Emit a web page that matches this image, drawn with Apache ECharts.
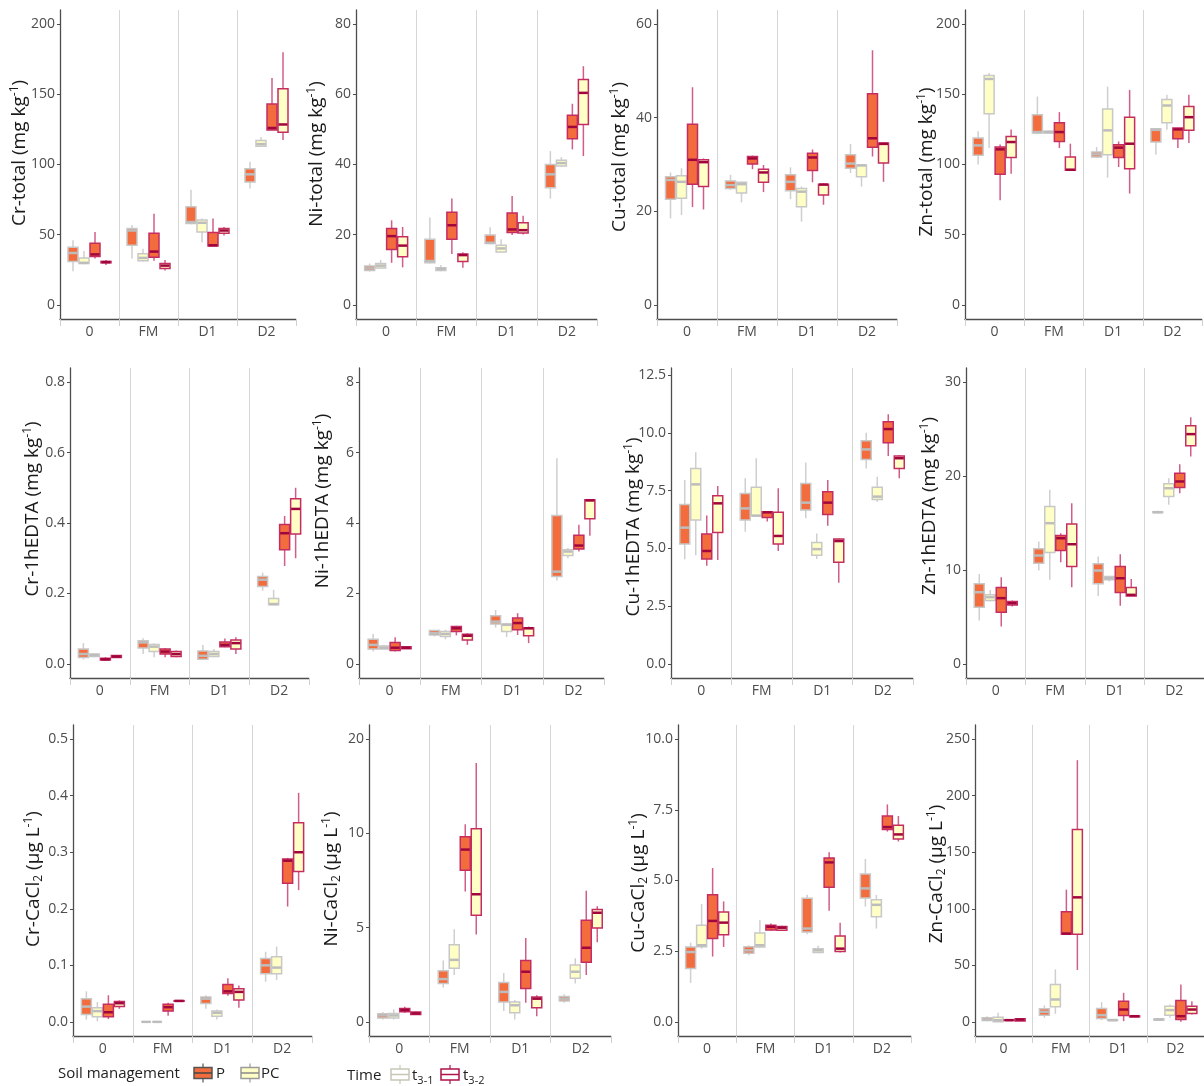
<!DOCTYPE html>
<html><head><meta charset="utf-8">
<script src="https://cdn.jsdelivr.net/npm/echarts@6/dist/echarts.min.js"></script>
<style>html,body{margin:0;padding:0;background:#fff}#chart{width:1204px;height:1086px}</style>
</head><body><div id="chart"></div>
<script>
// ---------- categories / groups ----------
const categories = ['0', 'FM', 'D1', 'D2'];
const groupNames = ['P t3-1', 'PC t3-1', 'P t3-2', 'PC t3-2'];

// ---------- data: per panel, per group (P t3-1, PC t3-1, P t3-2, PC t3-2), per category [low, q1, median, q3, high] ----------
const crTotal = [
  [[24,31,37,41,46],[33,42.5,53,54.5,57],[57.5,58,59,70,82],[83,87.5,93,97,102]],
  [[29,29.5,30,33.5,38.5],[31,31.5,33.5,36.5,40],[44.5,52,58.5,60.5,61.5],[113,113,114.5,117,119.5]],
  [[33,34.5,36,44,52],[31.5,34,38,51,65],[42,42,42.5,51.5,61.5],[124.5,124.5,126,143,161.5]],
  [[28.5,30,30.5,31,32],[24.5,26,28,29.5,32],[49.5,51,53,54.5,55.5],[117.5,123,128.5,154,180]]
];
const niTotal = [
  [[9.5,9.8,10.4,11.1,11.8],[11.8,12,12.5,18.7,24.9],[17.3,17.5,17.7,19.9,22.1],[30.3,33.4,37.2,40,43.8]],
  [[10.4,10.5,11.2,11.8,12.8],[9.6,9.8,10.3,10.6,11.4],[15,15.1,16.1,17,18.7],[39.3,39.6,40.4,41.2,42.1]],
  [[12,15.8,19.6,21.8,24.1],[14.5,18.7,22.7,26.4,30.3],[19.9,20.6,21.5,26.2,31],[44.3,47.3,50.7,54,57.3]],
  [[10.7,13.7,16.9,19.4,22.2],[10.6,12.4,14.2,14.5,15],[20.1,20.5,21.3,23.4,25.4],[42.4,51.4,60.4,64.2,68]]
];
const cuTotal = [
  [[18.5,22.6,26.7,27.4,28.3],[24.6,24.9,25.6,26.5,27.8],[22.6,24.4,26.3,27.8,29.4],[28.2,29.2,30.2,32.1,34.4]],
  [[19.2,22.8,26.3,27.6,29.2],[21.9,23.9,25.8,26.2,26.3],[17.8,21,24.2,24.9,25.3],[25.3,27.4,29.8,29.9,30]],
  [[20.9,25.8,31,38.6,46.5],[29,30.1,31.3,31.7,31.9],[26.2,28.7,31.5,32.4,33.2],[31.7,33.7,35.6,45.1,54.4]],
  [[20.4,25.3,30.5,31,31.3],[24.1,26.2,28.3,29,29.9],[21.4,23.5,25.7,25.8,26],[26.3,30.3,34.4,34.6,34.7]]
];
const znTotal = [
  [[100,106.5,113.6,118.8,123.6],[121.9,122.4,123.1,135.4,148.4],[104.6,105.3,107.2,108.9,112.4],[107.2,116,124.7,125.4,125.6]],
  [[111.7,136.1,160.9,163.3,165.2],[122,122.4,123.1,123.6,124.3],[90.6,107,124.3,139.6,155.5],[124.7,129.7,142,146.3,149.6]],
  [[74.6,93,110.8,112.4,114.3],[111.7,116.4,123.1,129.7,137.3],[98.2,104.9,112,114.1,116.4],[111.7,118.3,125,125.9,126]],
  [[93.5,104.9,116,120,125],[95.9,95.9,96.3,105.3,114.8],[79.3,97,114.8,133.7,153.1],[115.3,124.3,133.7,141.3,149.6]]
];
const crEdta = [
  [[0.013,0.018,0.028,0.042,0.059],[0.028,0.045,0.061,0.066,0.073],[0.011,0.013,0.023,0.037,0.054],[0.208,0.22,0.239,0.248,0.259]],
  [[0.019,0.021,0.025,0.028,0.03],[0.019,0.035,0.049,0.055,0.059],[0.019,0.021,0.028,0.035,0.042],[0.167,0.168,0.17,0.186,0.21]],
  [[0.009,0.011,0.013,0.016,0.019],[0.019,0.028,0.035,0.042,0.045],[0.047,0.049,0.054,0.062,0.072],[0.278,0.324,0.371,0.396,0.42]],
  [[0.017,0.018,0.021,0.024,0.025],[0.019,0.021,0.028,0.035,0.038],[0.028,0.042,0.059,0.068,0.076],[0.3,0.369,0.44,0.469,0.5]]
];
const niEdta = [
  [[0.35,0.42,0.54,0.70,0.85],[0.78,0.82,0.87,0.95,0.96],[1.03,1.13,1.20,1.37,1.53],[2.37,2.48,2.62,4.21,5.84]],
  [[0.41,0.42,0.46,0.51,0.54],[0.70,0.78,0.85,0.92,0.97],[0.76,0.92,1.11,1.13,1.17],[3.0,3.08,3.19,3.24,3.29]],
  [[0.35,0.38,0.46,0.61,0.76],[0.81,0.92,1.01,1.06,1.08],[0.82,0.97,1.16,1.30,1.44],[3.19,3.26,3.36,3.65,3.95]],
  [[0.42,0.43,0.46,0.49,0.5],[0.54,0.68,0.80,0.84,0.87],[0.59,0.80,1.01,1.03,1.06],[3.64,4.12,4.64,4.66,4.68]]
];
const cuEdta = [
  [[4.53,5.19,5.9,6.9,7.96],[5.72,6.23,6.73,7.38,8.03],[6.3,6.66,6.98,7.81,8.72],[8.46,8.85,9.28,9.65,10.0]],
  [[4.71,6.23,7.77,8.46,9.16],[6.37,6.4,6.42,7.64,8.9],[4.54,4.71,4.97,5.26,5.65],[7.02,7.12,7.24,7.64,8.1]],
  [[4.25,4.54,4.89,5.62,6.42],[6.16,6.34,6.56,6.59,6.62],[5.98,6.47,6.98,7.45,7.96],[9.0,9.57,10.16,10.48,10.8]],
  [[4.5,5.69,6.95,7.28,7.7],[4.89,5.19,5.54,6.56,7.6],[3.52,4.4,5.32,5.41,5.43],[8.03,8.46,8.9,9.0,9.04]]
];
const znEdta = [
  [[4.61,6.03,7.63,8.52,9.58],[9.94,10.72,11.54,12.25,13.03],[7.24,8.52,9.94,10.65,11.43],[16.05,16.1,16.15,16.2,16.3]],
  [[6.64,6.74,7.1,7.35,7.88],[8.95,11.86,14.98,16.76,18.53],[8.77,8.95,9.12,9.3,9.37],[16.93,17.82,18.7,19.17,19.77]],
  [[3.98,5.5,7.0,8.13,9.23],[10.83,12.07,13.38,13.67,13.92],[6.18,7.6,9.12,10.37,11.68],[18.18,18.78,19.42,20.3,21.26]],
  [[6.1,6.28,6.46,6.64,6.74],[8.16,10.37,12.74,14.9,17.11],[7.24,7.24,7.35,8.13,9.05],[22.08,23.22,24.46,25.35,26.27]]
];
const crCacl = [
  [[0.004,0.013,0.027,0.041,0.054],[0,0,0,0,0],[0.023,0.0325,0.041,0.044,0.047],[0.071,0.085,0.1,0.112,0.124]],
  [[0.001,0.009,0.019,0.025,0.035],[0,0,0,0,0],[0.004,0.01,0.016,0.019,0.022],[0.074,0.085,0.096,0.115,0.133]],
  [[0.005,0.009,0.017,0.031,0.047],[0.011,0.019,0.026,0.031,0.034],[0.046,0.05,0.054,0.066,0.077],[0.204,0.245,0.285,0.288,0.29]],
  [[0.023,0.027,0.033,0.036,0.038],[0.036,0.0365,0.037,0.0375,0.038],[0.025,0.0385,0.053,0.0586,0.0645],[0.233,0.266,0.3,0.352,0.405]]
];
const niCacl = [
  [[0.13,0.21,0.34,0.43,0.52],[1.82,2.04,2.27,2.71,3.25],[0.57,1.05,1.59,2.09,2.59],[1.02,1.11,1.23,1.34,1.46]],
  [[0.13,0.21,0.34,0.45,0.66],[2.48,2.84,3.29,4.09,4.91],[0.13,0.48,0.88,1.05,1.16],[2.04,2.32,2.66,3.02,3.38]],
  [[0.48,0.54,0.63,0.71,0.8],[6.91,8.04,9.14,9.82,10.48],[1.02,1.77,2.66,3.25,4.45],[2.48,3.16,3.93,5.39,6.96]],
  [[0.36,0.39,0.45,0.52,0.55],[4.63,5.66,6.77,10.25,13.73],[0.3,0.75,1.23,1.32,1.41],[4.23,4.98,5.79,5.96,6.14]]
];
const cuCacl = [
  [[1.38,1.89,2.47,2.65,2.8],[2.36,2.43,2.53,2.66,2.71],[3.1,3.18,3.3,4.37,4.5],[4.08,4.38,4.72,5.23,5.76]],
  [[2.59,2.66,2.71,3.42,4.17],[2.63,2.65,2.71,3.14,3.6],[2.43,2.45,2.53,2.59,2.69],[3.3,3.72,4.14,4.32,4.49]],
  [[2.31,2.95,3.57,4.5,5.44],[3.22,3.25,3.36,3.42,3.48],[3.93,4.76,5.64,5.8,6.0],[6.73,6.8,6.89,7.28,7.69]],
  [[2.65,3.08,3.51,3.89,4.26],[3.22,3.24,3.33,3.37,3.4],[2.45,2.49,2.59,3.04,3.51],[6.38,6.47,6.63,6.95,7.28]]
];
const znCacl = [
  [[0.6,1.2,2.1,3.6,5],[3.6,5.9,8.9,11.5,14.5],[1.5,3,5.9,11.8,17.5],[1.2,1.5,2.1,2.7,3]],
  [[0,0.2,1.5,4.1,8],[7.1,13.3,19.8,33.1,46.4],[0.9,1.2,1.5,2,2.4],[3.6,5.9,10.4,13.9,15.4]],
  [[1.2,1.3,1.5,1.7,2],[77.5,77.5,78.1,97.3,116.9],[0.6,5.6,10.9,18.3,25.7],[0,2.1,5,18.9,33.1]],
  [[0.6,0.8,2,2.7,3],[45.9,77.5,110.1,170.1,231.4],[4.1,4.4,5,5.3,5.6],[6.5,7.4,10.9,13.9,18.3]]
];

// ---------- tick values and tick labels ----------
const crTotalTicks = [0,50,100,150,200];   const crTotalLabels = ['0','50','100','150','200'];
const niTotalTicks = [0,20,40,60,80];      const niTotalLabels = ['0','20','40','60','80'];
const cuTotalTicks = [0,20,40,60];         const cuTotalLabels = ['0','20','40','60'];
const znTotalTicks = [0,50,100,150,200];   const znTotalLabels = ['0','50','100','150','200'];
const crEdtaTicks = [0,0.2,0.4,0.6,0.8];   const crEdtaLabels = ['0.0','0.2','0.4','0.6','0.8'];
const niEdtaTicks = [0,2,4,6,8];           const niEdtaLabels = ['0','2','4','6','8'];
const cuEdtaTicks = [0,2.5,5,7.5,10,12.5]; const cuEdtaLabels = ['0.0','2.5','5.0','7.5','10.0','12.5'];
const znEdtaTicks = [0,10,20,30];          const znEdtaLabels = ['0','10','20','30'];
const crCaclTicks = [0,0.1,0.2,0.3,0.4,0.5]; const crCaclLabels = ['0.0','0.1','0.2','0.3','0.4','0.5'];
const niCaclTicks = [0,5,10,15];           const niCaclLabels = ['0','5','10','20'];
const cuCaclTicks = [0,2.5,5,7.5,10];      const cuCaclLabels = ['0.0','2.5','5.0','7.5','10.0'];
const znCaclTicks = [0,50,100,150,200,250]; const znCaclLabels = ['0','50','100','150','200','250'];

// ---------- axis titles (parts: [style, text]) ----------
const titles = [
  [['t','Cr-total (mg kg'],['sup','-1'],['t',')']],
  [['t','Ni-total (mg kg'],['sup','-1'],['t',')']],
  [['t','Cu-total (mg kg'],['sup','-1'],['t',')']],
  [['t','Zn-total (mg kg'],['sup','-1'],['t',')']],
  [['t','Cr-1hEDTA (mg kg'],['sup','-1'],['t',')']],
  [['t','Ni-1hEDTA (mg kg'],['sup','-1'],['t',')']],
  [['t','Cu-1hEDTA (mg kg'],['sup','-1'],['t',')']],
  [['t','Zn-1hEDTA (mg kg'],['sup','-1'],['t',')']],
  [['t','Cr-CaCl'],['sub','2'],['t',' (µg L'],['sup','-1'],['t',')']],
  [['t','Ni-CaCl'],['sub','2'],['t',' (µg L'],['sup','-1'],['t',')']],
  [['t','Cu-CaCl'],['sub','2'],['t',' (µg L'],['sup','-1'],['t',')']],
  [['t','Zn-CaCl'],['sub','2'],['t',' (µg L'],['sup','-1'],['t',')']]
];

// ---------- layout (pixels) ----------
const PANEL_DATA = [crTotal, niTotal, cuTotal, znTotal, crEdta, niEdta, cuEdta, znEdta, crCacl, niCacl, cuCacl, znCacl];
const PANEL_TICKS = [crTotalTicks, niTotalTicks, cuTotalTicks, znTotalTicks, crEdtaTicks, niEdtaTicks, cuEdtaTicks, znEdtaTicks, crCaclTicks, niCaclTicks, cuCaclTicks, znCaclTicks];
const PANEL_LABELS = [crTotalLabels, niTotalLabels, cuTotalLabels, znTotalLabels, crEdtaLabels, niEdtaLabels, cuEdtaLabels, znEdtaLabels, crCaclLabels, niCaclLabels, cuCaclLabels, znCaclLabels];
const Y_RANGE = [[-10,210],[-4,84],[-3,63],[-10,210],[-0.04,0.84],[-0.4,8.4],[-0.6,12.8],[-1.5,31.5],[-0.025,0.525],[-0.75,15.75],[-0.5,10.5],[-12.5,262.5]];
const GRIDS = [
  [60,10,236,309],[356,10,241,309],[657,10,240,309],[965,10,237,309],
  [70,368,239,310],[359,368,245,310],[671,368,242,310],[966,368,238,310],
  [73,725,239,311],[369,725,242,311],[678,725,233,311],[975,725,229,311]
];
const TITLE_POS = [[20,153],[317,154],[620,157],[927,162],[33,509],[323,501],[634,527],[930,506],[34,879],[332,879],[639,883],[937,874]];

const FONT = '"Open Sans", "Noto Sans", sans-serif';
const ORANGE = '#F36C3E', YELLOW = '#FFFFC6';
const GRAY_BORDER = '#C8C8C8', GRAY_WHISK = '#CFCFCF', GRAY_MED = '#BDBDBD';
const CRIM_BORDER = '#C42C62', CRIM_WHISK = '#CF5F8A', CRIM_MED = '#A0063D';
const GROUP_STYLE = [
  {fill: ORANGE, border: GRAY_BORDER, whisker: GRAY_WHISK, median: GRAY_MED},
  {fill: YELLOW, border: GRAY_BORDER, whisker: GRAY_WHISK, median: GRAY_MED},
  {fill: ORANGE, border: CRIM_BORDER, whisker: CRIM_WHISK, median: CRIM_MED},
  {fill: YELLOW, border: CRIM_BORDER, whisker: CRIM_WHISK, median: CRIM_MED}
];
const BOX_W = 10, BOX_STEP = 11;

function renderBox(gi) {
  const st = GROUP_STYLE[gi];
  return function (params, api) {
    const c = api.value(0);
    const cx = api.coord([c, 0])[0] + (gi - 1.5) * BOX_STEP;
    const yl = api.coord([c, api.value(1)])[1];
    const y1 = api.coord([c, api.value(2)])[1];
    const ym = api.coord([c, api.value(3)])[1];
    const y3 = api.coord([c, api.value(4)])[1];
    const yh = api.coord([c, api.value(5)])[1];
    return {
      type: 'group',
      children: [
        {type: 'line', shape: {x1: cx, y1: yh, x2: cx, y2: yl}, style: {stroke: st.whisker, lineWidth: 1.5}},
        {type: 'rect', shape: {x: cx - BOX_W / 2, y: y3, width: BOX_W, height: y1 - y3}, style: {fill: st.fill, stroke: st.border, lineWidth: 1.5}},
        {type: 'line', shape: {x1: cx - BOX_W / 2 + 0.5, y1: ym, x2: cx + BOX_W / 2 - 0.5, y2: ym}, style: {stroke: st.median, lineWidth: 2.5}}
      ]
    };
  };
}

const grid = [], xAxis = [], yAxis = [], series = [], graphic = [];
const AX = '#4d4d4d';
PANEL_DATA.forEach(function (panel, p) {
  const g = GRIDS[p];
  grid.push({left: g[0], top: g[1], width: g[2], height: g[3], containLabel: false});
  xAxis.push({
    type: 'category', gridIndex: p, data: categories, boundaryGap: true,
    axisLine: {show: true, onZero: false, lineStyle: {color: AX, width: 1.3}},
    axisTick: {show: true, length: 7, lineStyle: {color: '#D0D0D0', width: 1}},
    axisLabel: {color: AX, fontSize: 14, fontFamily: FONT, margin: 6},
    splitLine: {show: true, showMinLine: false, showMaxLine: false, lineStyle: {color: '#D6D6D6', width: 1}}
  });
  const ticks = PANEL_TICKS[p], labels = PANEL_LABELS[p];
  yAxis.push({
    type: 'value', gridIndex: p, min: Y_RANGE[p][0], max: Y_RANGE[p][1],
    axisLine: {show: true, lineStyle: {color: AX, width: 1.3}},
    axisTick: {show: true, length: 3, customValues: ticks, lineStyle: {color: AX}},
    axisLabel: {
      customValues: ticks, color: AX, fontSize: 14, fontFamily: FONT, margin: 5,
      formatter: function (v) {
        for (let i = 0; i < ticks.length; i++) if (Math.abs(ticks[i] - v) < 1e-9) return labels[i];
        return '';
      }
    },
    splitLine: {show: false}
  });
  panel.forEach(function (grp, gi) {
    series.push({
      type: 'custom', name: groupNames[gi], xAxisIndex: p, yAxisIndex: p,
      renderItem: renderBox(gi),
      encode: {x: 0, y: [1, 2, 3, 4, 5]},
      data: grp.map(function (v, ci) { return [ci].concat(v); }),
      z: 3 + gi
    });
  });
  // axis title
  const txt = titles[p].map(function (part) { return '{' + part[0] + '|' + part[1] + '}'; }).join('');
  graphic.push({
    type: 'text', x: TITLE_POS[p][0], y: TITLE_POS[p][1], rotation: Math.PI / 2,
    style: {
      text: txt, align: 'center', verticalAlign: 'middle',
      rich: {
        t: {fontSize: 19, fontFamily: FONT, fill: '#1a1a1a', lineHeight: 22},
        sup: {fontSize: 12, fontFamily: FONT, fill: '#1a1a1a', lineHeight: 12, verticalAlign: 'top'},
        sub: {fontSize: 12, fontFamily: FONT, fill: '#1a1a1a', lineHeight: 12, verticalAlign: 'bottom'}
      }
    }
  });
});

// ---------- legend (drawn as graphic keys) ----------
function legendKey(x, y, fill, stroke, med) {
  return [
    {type: 'line', shape: {x1: x + 9, y1: y - 4, x2: x + 9, y2: y + 15}, style: {stroke: stroke, lineWidth: 1.2}},
    {type: 'rect', shape: {x: x, y: y, width: 18, height: 11}, style: {fill: fill, stroke: stroke, lineWidth: 1.5}},
    {type: 'line', shape: {x1: x, y1: y + 5.5, x2: x + 18, y2: y + 5.5}, style: {stroke: med, lineWidth: 1.5}}
  ];
}
const LEG_STYLE = {fontSize: 15, fontFamily: FONT, fill: '#222'};
graphic.push({type: 'text', x: 58, y: 1074, style: Object.assign({text: 'Soil management', verticalAlign: 'middle'}, LEG_STYLE)});
legendKey(194, 1067.5, ORANGE, '#555555', '#444444').forEach(function (e) { graphic.push(e); });
graphic.push({type: 'text', x: 216, y: 1074, style: Object.assign({text: 'P', verticalAlign: 'middle'}, LEG_STYLE)});
legendKey(241, 1067.5, YELLOW, '#9A9A9A', '#8A8A8A').forEach(function (e) { graphic.push(e); });
graphic.push({type: 'text', x: 261, y: 1074, style: Object.assign({text: 'PC', verticalAlign: 'middle'}, LEG_STYLE)});
graphic.push({type: 'text', x: 347, y: 1076, style: Object.assign({text: 'Time', verticalAlign: 'middle'}, LEG_STYLE)});
legendKey(391, 1069, '#FFFFFF', '#C6C6B8', '#C6C6B8').forEach(function (e) { graphic.push(e); });
graphic.push({type: 'text', x: 412, y: 1076, style: {text: '{a|t}{b|3-1}', verticalAlign: 'middle',
  rich: {a: {fontSize: 15, fontFamily: FONT, fill: '#222', lineHeight: 20}, b: {fontSize: 11, fontFamily: FONT, fill: '#222', lineHeight: 11, verticalAlign: 'bottom'}}}});
legendKey(441, 1069, '#FFFFFF', '#B0124A', '#B0124A').forEach(function (e) { graphic.push(e); });
graphic.push({type: 'text', x: 463, y: 1076, style: {text: '{a|t}{b|3-2}', verticalAlign: 'middle',
  rich: {a: {fontSize: 15, fontFamily: FONT, fill: '#222', lineHeight: 20}, b: {fontSize: 11, fontFamily: FONT, fill: '#222', lineHeight: 11, verticalAlign: 'bottom'}}}});

const chart = echarts.init(document.getElementById('chart'), null, {renderer: 'canvas'});
chart.setOption({
  animation: false,
  backgroundColor: '#ffffff',
  grid: grid, xAxis: xAxis, yAxis: yAxis, series: series, graphic: graphic
});
</script>
</body></html>
